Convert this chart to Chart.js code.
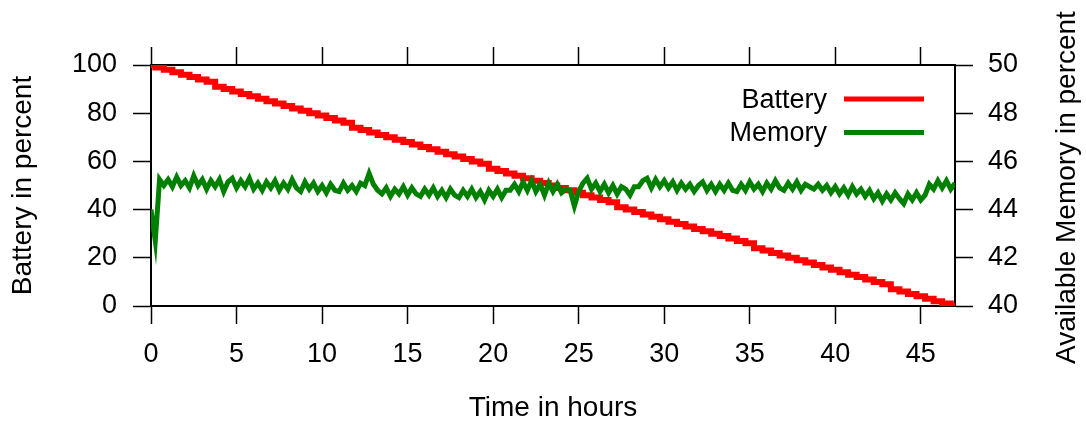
<!DOCTYPE html>
<html>
<head>
<meta charset="utf-8">
<script src="https://cdn.jsdelivr.net/npm/chart.js@4.4.1/dist/chart.umd.min.js"></script>
<style>
  html, body { margin: 0; padding: 0; background: #fff; }
  #wrap { width: 1086px; height: 426px; }
</style>
</head>
<body>
<div id="wrap"><canvas id="chart" width="1086" height="426"></canvas></div>
<script>
// battery, sampled every half hour
const batteryStep = 0.5;
const battery = [
  100, 99, 98, 97, 96, 95, 94, 93, 91, 90, 89, 88, 87, 86, 85, 84,
  83, 82, 81, 80, 79, 78, 77, 76, 74, 73, 72, 71, 70, 69, 68, 67,
  66, 65, 64, 63, 62, 61, 60, 59, 57, 56, 55, 54, 53, 52, 51, 50,
  49, 48, 47, 46, 45, 44, 43, 41, 40, 39, 38, 37, 36, 35, 34, 33,
  32, 31, 30, 29, 28, 27, 26, 24, 23, 22, 21, 20, 19, 18, 17, 16,
  15, 14, 13, 12, 11, 10, 9, 7, 6, 5, 4, 3, 2, 1, 0
];

// available memory, sampled every quarter hour
const memoryStep = 0.25;
const memory = [
  44.0, 42.7, 45.25, 45.0, 45.25, 44.95, 45.35, 45.0, 45.2, 44.9, 45.4, 45.0,
  45.25, 44.85, 45.2, 44.95, 45.25, 44.75, 45.15, 45.3, 44.9, 45.2, 44.95, 45.3,
  44.85, 45.1, 44.8, 45.15, 44.9, 45.2, 44.8, 45.1, 44.85, 45.25, 44.9, 44.75,
  45.15, 44.85, 45.1, 44.75, 45.0, 44.7, 45.05, 44.8, 44.75, 45.1, 44.8, 45.0,
  44.75, 45.1, 45.0, 45.5, 45.05, 44.8, 44.65, 44.9, 44.55, 44.85, 44.65, 44.95,
  44.6, 44.9, 44.65, 44.55, 44.85, 44.6, 44.9, 44.55, 44.8, 44.5, 44.85, 44.6,
  44.5, 44.8, 44.55, 44.85, 44.5, 44.75, 44.4, 44.8, 44.55, 44.85, 44.5, 44.8,
  44.8, 45.05, 44.75, 45.15, 44.8, 45.2, 44.75, 45.05, 44.6, 45.1, 44.75, 45.05,
  44.7, 44.85, 44.8, 44.15, 44.75, 45.1, 45.3, 44.85, 45.1, 44.75, 45.05, 44.7,
  45.0, 44.65, 44.95, 44.85, 44.6, 44.95, 44.95, 45.2, 45.3, 44.9, 45.25, 44.95,
  45.2, 44.9, 45.15, 44.8, 45.1, 44.85, 45.05, 44.75, 45.0, 45.15, 44.8, 45.05,
  44.75, 45.05, 44.8, 45.1, 44.8, 44.75, 45.05, 44.8, 45.15, 44.85, 45.05, 44.75,
  45.1, 44.85, 45.2, 44.9, 44.8, 45.1, 44.85, 45.15, 44.8, 45.05, 44.95, 44.85,
  45.05, 44.8, 45.0, 44.7, 44.95, 44.65, 44.9, 44.6, 44.95, 44.65, 44.85, 44.55,
  44.8, 44.45, 44.7, 44.35, 44.65, 44.4, 44.7, 44.45, 44.25, 44.65, 44.4, 44.7,
  44.4, 44.6, 45.05, 44.85, 45.2, 44.9, 45.2, 44.85, 45.1
];

// axes
const xMax = 47;
const xTickStep = 5;
const batteryRange = [0, 100];
const batteryTickStep = 20;
const memoryRange = [40, 50];
const memoryTickStep = 2;

const xTitle = 'Time in hours';
const leftTitle = 'Battery in percent';
const rightTitle = 'Available Memory in percent';

const RED = '#ff0000';
const GREEN = '#008000';
const FONT = '"Liberation Sans", Arial, sans-serif';

Chart.defaults.font.family = FONT;
Chart.defaults.color = '#000';

const toPoints = (vals, step) => vals.map((v, i) => ({ x: i * step, y: v }));

const gridStyle = {
  drawOnChartArea: false,
  drawTicks: true,
  tickLength: 18,
  tickWidth: 1.5,
  tickColor: '#000'
};
const borderStyle = { display: true, color: '#000', width: 2 };

// titel rechts + legende selbst zeichnen
const overlay = {
  id: 'overlay',
  afterDraw(chart) {
    const ctx = chart.ctx;
    const area = chart.chartArea;

    ctx.save();
    ctx.fillStyle = '#000';
    ctx.font = '28px ' + FONT;
    ctx.textAlign = 'center';
    ctx.textBaseline = 'alphabetic';
    ctx.translate(1075, (area.top + area.bottom) / 2 + 2);
    ctx.rotate(-Math.PI / 2);
    ctx.fillText(rightTitle, 0, 0);
    ctx.restore();

    const rows = [
      { label: 'Battery', color: RED, base: 42.5, line: 34 },
      { label: 'Memory', color: GREEN, base: 76, line: 67.5 }
    ];
    ctx.save();
    ctx.font = '27px ' + FONT;
    ctx.textAlign = 'right';
    ctx.textBaseline = 'alphabetic';
    rows.forEach(r => {
      ctx.fillStyle = '#000';
      ctx.fillText(r.label, area.right - 128, area.top + r.base);
      ctx.strokeStyle = r.color;
      ctx.lineWidth = 5;
      ctx.beginPath();
      ctx.moveTo(area.right - 111, area.top + r.line);
      ctx.lineTo(area.right - 31, area.top + r.line);
      ctx.stroke();
    });
    ctx.restore();
  }
};

new Chart(document.getElementById('chart'), {
  type: 'line',
  data: {
    datasets: [
      {
        label: 'Battery',
        data: toPoints(battery, batteryStep),
        borderColor: RED,
        backgroundColor: RED,
        borderWidth: 6,
        stepped: 'middle',
        pointRadius: 0,
        yAxisID: 'y',
        order: 1
      },
      {
        label: 'Memory',
        data: toPoints(memory, memoryStep),
        borderColor: GREEN,
        backgroundColor: GREEN,
        borderWidth: 5,
        tension: 0,
        pointRadius: 0,
        yAxisID: 'y2',
        order: 0
      }
    ]
  },
  plugins: [overlay],
  options: {
    responsive: false,
    animation: false,
    events: [],
    layout: { padding: 0 },
    plugins: {
      legend: { display: false },
      title: { display: false },
      tooltip: { enabled: false }
    },
    scales: {
      x: {
        type: 'linear',
        position: 'bottom',
        min: 0,
        max: xMax,
        grid: gridStyle,
        border: borderStyle,
        ticks: { stepSize: xTickStep, includeBounds: false, padding: 14, font: { size: 27 }, maxRotation: 0 },
        title: { display: true, text: xTitle, font: { size: 28 }, padding: { top: 0, bottom: 1 } },
        afterFit: s => { s.height = 120; }
      },
      x2: {
        type: 'linear',
        position: 'top',
        min: 0,
        max: xMax,
        grid: gridStyle,
        border: borderStyle,
        ticks: { stepSize: xTickStep, includeBounds: false, display: false },
        afterFit: s => { s.height = 65; }
      },
      y: {
        position: 'left',
        min: batteryRange[0],
        max: batteryRange[1],
        grid: gridStyle,
        border: borderStyle,
        ticks: { stepSize: batteryTickStep, padding: 16, font: { size: 27 } },
        title: { display: true, text: leftTitle, font: { size: 28 }, padding: { top: 6, bottom: 0 } },
        afterFit: s => { s.width = 151; }
      },
      y2: {
        position: 'right',
        min: memoryRange[0],
        max: memoryRange[1],
        grid: gridStyle,
        border: borderStyle,
        ticks: { stepSize: memoryTickStep, padding: 15, font: { size: 27 } },
        afterFit: s => { s.width = 131; }
      }
    }
  }
});
</script>
</body>
</html>
